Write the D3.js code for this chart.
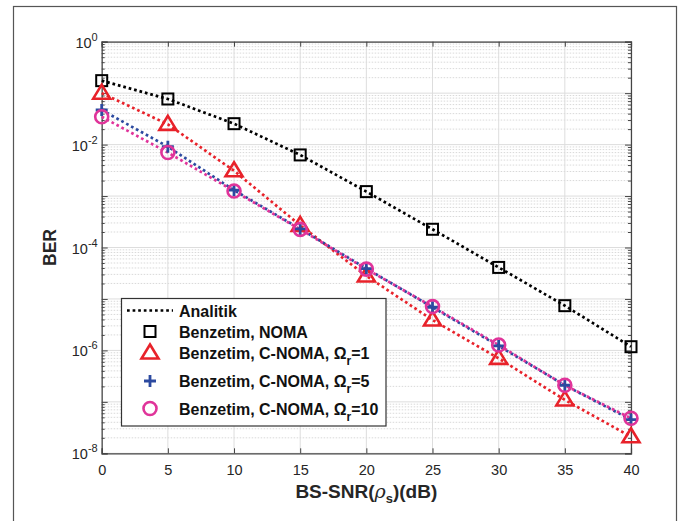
<!DOCTYPE html>
<html>
<head>
<meta charset="utf-8">
<script src="https://cdn.jsdelivr.net/npm/d3@7"></script>
<style>
  html, body { margin: 0; padding: 0; background: #fff; }
  svg { display: block; }
  text { font-family: "Liberation Sans", Arial, Helvetica, sans-serif; }
</style>
</head>
<body>
<svg id="chart" width="678" height="521"></svg>
<script>
// SNR points (dB)
const snr = [0, 5, 10, 15, 20, 25, 30, 35, 40];

// BER per scheme
const berNoma   = [0.175, 0.077, 0.0255, 0.0063, 0.00122, 2.26e-4, 4.1e-5, 7.4e-6, 1.18e-6];
const berOmega1 = [0.10, 0.0248, 0.0031, 2.7e-4, 2.8e-5, 3.9e-6, 7.0e-7, 1.09e-7, 2.1e-8];
const berOmega5 = [0.047, 0.0091, 0.0013, 2.3e-4, 3.9e-5, 6.9e-6, 1.22e-6, 2.1e-7, 4.5e-8];
const berOmega10 = [0.0348, 0.0070, 0.00125, 2.25e-4, 3.8e-5, 7.1e-6, 1.27e-6, 2.1e-7, 4.8e-8];

// Axis ticks
const xTicks = [0, 5, 10, 15, 20, 25, 30, 35, 40];
const yExponents = [0, -2, -4, -6, -8];

// Legend labels
const legendLabels = ["Analitik", "Benzetim, NOMA", "Benzetim, C-NOMA, Ω", "Benzetim, C-NOMA, Ω", "Benzetim, C-NOMA, Ω"];
const legendSubs = [null, null, "r", "r", "r"];
const legendTails = [null, null, "=1", "=5", "=10"];

const colors = { noma: "#000000", o1: "#e8222a", o5: "#2c4aa0", o10: "#e0349a" };

const svg = d3.select("#chart");
const plot = { left: 101.7, right: 631, top: 41.7, bottom: 453.3 };

// Outer figure frame
svg.append("rect")
  .attr("x", 13.5).attr("y", 6.5)
  .attr("width", 663).attr("height", 530)
  .attr("fill", "#fff").attr("stroke", "#555").attr("stroke-width", 1.2);

const x = d3.scaleLinear().domain([0, 40]).range([plot.left, plot.right]);
const y = d3.scaleLog().domain([1e-8, 1]).range([plot.bottom, plot.top]);

const g = svg.append("g");

// Minor grid (log decades 2..9)
const minorVals = [];
for (let e = -8; e < 0; e++) {
  for (let m = 2; m <= 9; m++) minorVals.push(m * Math.pow(10, e));
}
const majorVals = d3.range(-8, 1).map(e => Math.pow(10, e));

g.append("g").selectAll("line").data(minorVals).join("line")
  .attr("x1", plot.left).attr("x2", plot.right)
  .attr("y1", d => y(d)).attr("y2", d => y(d))
  .attr("stroke", "#cfcfcf").attr("stroke-width", 0.8)
  .attr("stroke-dasharray", "1.5,1.5");

g.append("g").selectAll("line").data(majorVals).join("line")
  .attr("x1", plot.left).attr("x2", plot.right)
  .attr("y1", d => y(d)).attr("y2", d => y(d))
  .attr("stroke", "#dddddd").attr("stroke-width", 1);

g.append("g").selectAll("line").data(xTicks).join("line")
  .attr("x1", d => x(d)).attr("x2", d => x(d))
  .attr("y1", plot.top).attr("y2", plot.bottom)
  .attr("stroke", "#dddddd").attr("stroke-width", 1);

// Axes with inward ticks on all sides
const axisColor = "#444";
const bottomAxis = d3.axisBottom(x).tickValues(xTicks).tickSize(-5).tickFormat(d3.format("d")).tickPadding(11);
const topAxis = d3.axisTop(x).tickValues(xTicks).tickSize(-5).tickFormat("");
const leftAxis = d3.axisLeft(y).tickValues(majorVals).tickSize(-6).tickFormat("");
const rightAxis = d3.axisRight(y).tickValues(majorVals).tickSize(-6).tickFormat("");
const leftMinor = d3.axisLeft(y).tickValues(minorVals).tickSize(-3).tickFormat("");
const rightMinor = d3.axisRight(y).tickValues(minorVals).tickSize(-3).tickFormat("");

function styleAxis(sel) {
  sel.select(".domain").attr("stroke", axisColor).attr("stroke-width", 1.2);
  sel.selectAll(".tick line").attr("stroke", axisColor).attr("stroke-width", 1);
  sel.selectAll(".tick text").attr("fill", "#262626").style("font-size", "14.5px")
     .style("font-family", "'Liberation Sans', Arial, sans-serif");
}

g.append("g").attr("transform", `translate(0,${plot.bottom})`).call(bottomAxis).call(styleAxis);
g.append("g").attr("transform", `translate(0,${plot.top})`).call(topAxis).call(styleAxis);
g.append("g").attr("transform", `translate(${plot.left},0)`).call(leftAxis).call(styleAxis);
g.append("g").attr("transform", `translate(${plot.right},0)`).call(rightAxis).call(styleAxis);
g.append("g").attr("transform", `translate(${plot.left},0)`).call(leftMinor).call(styleAxis)
  .select(".domain").remove();
g.append("g").attr("transform", `translate(${plot.right},0)`).call(rightMinor).call(styleAxis)
  .select(".domain").remove();

// Y tick labels as 10^n
const yLab = g.append("g");
yExponents.forEach(e => {
  const t = yLab.append("text")
    .attr("x", plot.left - 4).attr("y", y(Math.pow(10, e)) + 6)
    .attr("text-anchor", "end").attr("fill", "#262626").style("font-size", "14.5px");
  t.append("tspan").text("10");
  t.append("tspan").attr("dy", -7).style("font-size", "11px").text(String(e));
});

// Series lines and markers
const line = d3.line().x(d => x(d[0])).y(d => y(d[1]));
const series = [
  { vals: berNoma, color: colors.noma, marker: "square" },
  { vals: berOmega1, color: colors.o1, marker: "triangle" },
  { vals: berOmega5, color: colors.o5, marker: "plus" },
  { vals: berOmega10, color: colors.o10, marker: "circle" }
];

const clipId = "plotclip";
svg.append("clipPath").attr("id", clipId).append("rect")
  .attr("x", plot.left - 12).attr("y", plot.top - 12)
  .attr("width", plot.right - plot.left + 24).attr("height", plot.bottom - plot.top + 24);

const dataG = svg.append("g").attr("clip-path", `url(#${clipId})`);

series.forEach(s => {
  const pts = snr.map((v, i) => [v, s.vals[i]]);
  dataG.append("path").datum(pts)
    .attr("d", line).attr("fill", "none")
    .attr("stroke", s.color).attr("stroke-width", 2.7)
    .attr("stroke-dasharray", "2.7,2.9");
});

function drawMarker(sel, type, color, cx, cy) {
  if (type === "square") {
    sel.append("rect").attr("x", cx - 5.5).attr("y", cy - 5.5).attr("width", 11).attr("height", 11)
      .attr("fill", "none").attr("stroke", color).attr("stroke-width", 2);
  } else if (type === "triangle") {
    const s = 8.5;
    sel.append("path")
      .attr("d", `M${cx},${cy - s} L${cx + s},${cy + s * 0.65} L${cx - s},${cy + s * 0.65} Z`)
      .attr("fill", "none").attr("stroke", color).attr("stroke-width", 2.6);
  } else if (type === "plus") {
    sel.append("path")
      .attr("d", `M${cx - 6},${cy} L${cx + 6},${cy} M${cx},${cy - 6} L${cx},${cy + 6}`)
      .attr("stroke", color).attr("stroke-width", 2.8);
  } else if (type === "circle") {
    sel.append("circle").attr("cx", cx).attr("cy", cy).attr("r", 6.5)
      .attr("fill", "none").attr("stroke", color).attr("stroke-width", 2.6);
  }
}

series.forEach(s => {
  const mg = dataG.append("g");
  snr.forEach((v, i) => drawMarker(mg, s.marker, s.color, x(v), y(s.vals[i])));
});

// Axis titles
svg.append("text")
  .attr("x", (plot.left + plot.right) / 2).attr("y", 498)
  .attr("text-anchor", "middle").attr("fill", "#262626")
  .style("font-size", "19px").style("font-weight", "bold")
  .call(t => {
    t.append("tspan").text("BS-SNR(");
    t.append("tspan").style("font-style", "italic").style("font-weight", "normal")
      .style("font-family", "'DejaVu Serif', serif").text("ρ");
    t.append("tspan").attr("dy", 5).style("font-size", "13px").text("s");
    t.append("tspan").attr("dy", -5).text(")(dB)");
  });

svg.append("text")
  .attr("transform", `translate(56,${(plot.top + plot.bottom) / 2}) rotate(-90)`)
  .attr("text-anchor", "middle").attr("fill", "#262626")
  .style("font-size", "17.5px").style("font-weight", "bold")
  .text("BER");

// Legend
const lg = svg.append("g");
const box = { x: 121.5, y: 298.5, w: 264.5, h: 127.5 };
lg.append("rect").attr("x", box.x).attr("y", box.y).attr("width", box.w).attr("height", box.h)
  .attr("fill", "#fff").attr("stroke", "#333").attr("stroke-width", 1.2);

const rowsY = [310.5, 331.5, 353, 381, 408.5];
const markerTypes = [null, "square", "triangle", "plus", "circle"];
const markerColors = [null, colors.noma, colors.o1, colors.o5, colors.o10];
const legendMarkerX = 150;
const textX = 179;

lg.append("line")
  .attr("x1", 127).attr("x2", 173).attr("y1", rowsY[0]).attr("y2", rowsY[0])
  .attr("stroke", "#000").attr("stroke-width", 2.7).attr("stroke-dasharray", "2.7,2.9");

legendLabels.forEach((lab, i) => {
  if (markerTypes[i]) drawMarker(lg, markerTypes[i], markerColors[i], legendMarkerX, rowsY[i]);
  const t = lg.append("text").attr("x", textX).attr("y", rowsY[i] + 6)
    .attr("fill", "#111").style("font-size", "16px").style("font-weight", "bold");
  t.append("tspan").text(lab);
  if (legendSubs[i]) {
    t.append("tspan").attr("dy", 6).style("font-size", "12px").text(legendSubs[i]);
    t.append("tspan").attr("dy", -6).text(legendTails[i]);
  }
});
</script>
</body>
</html>
